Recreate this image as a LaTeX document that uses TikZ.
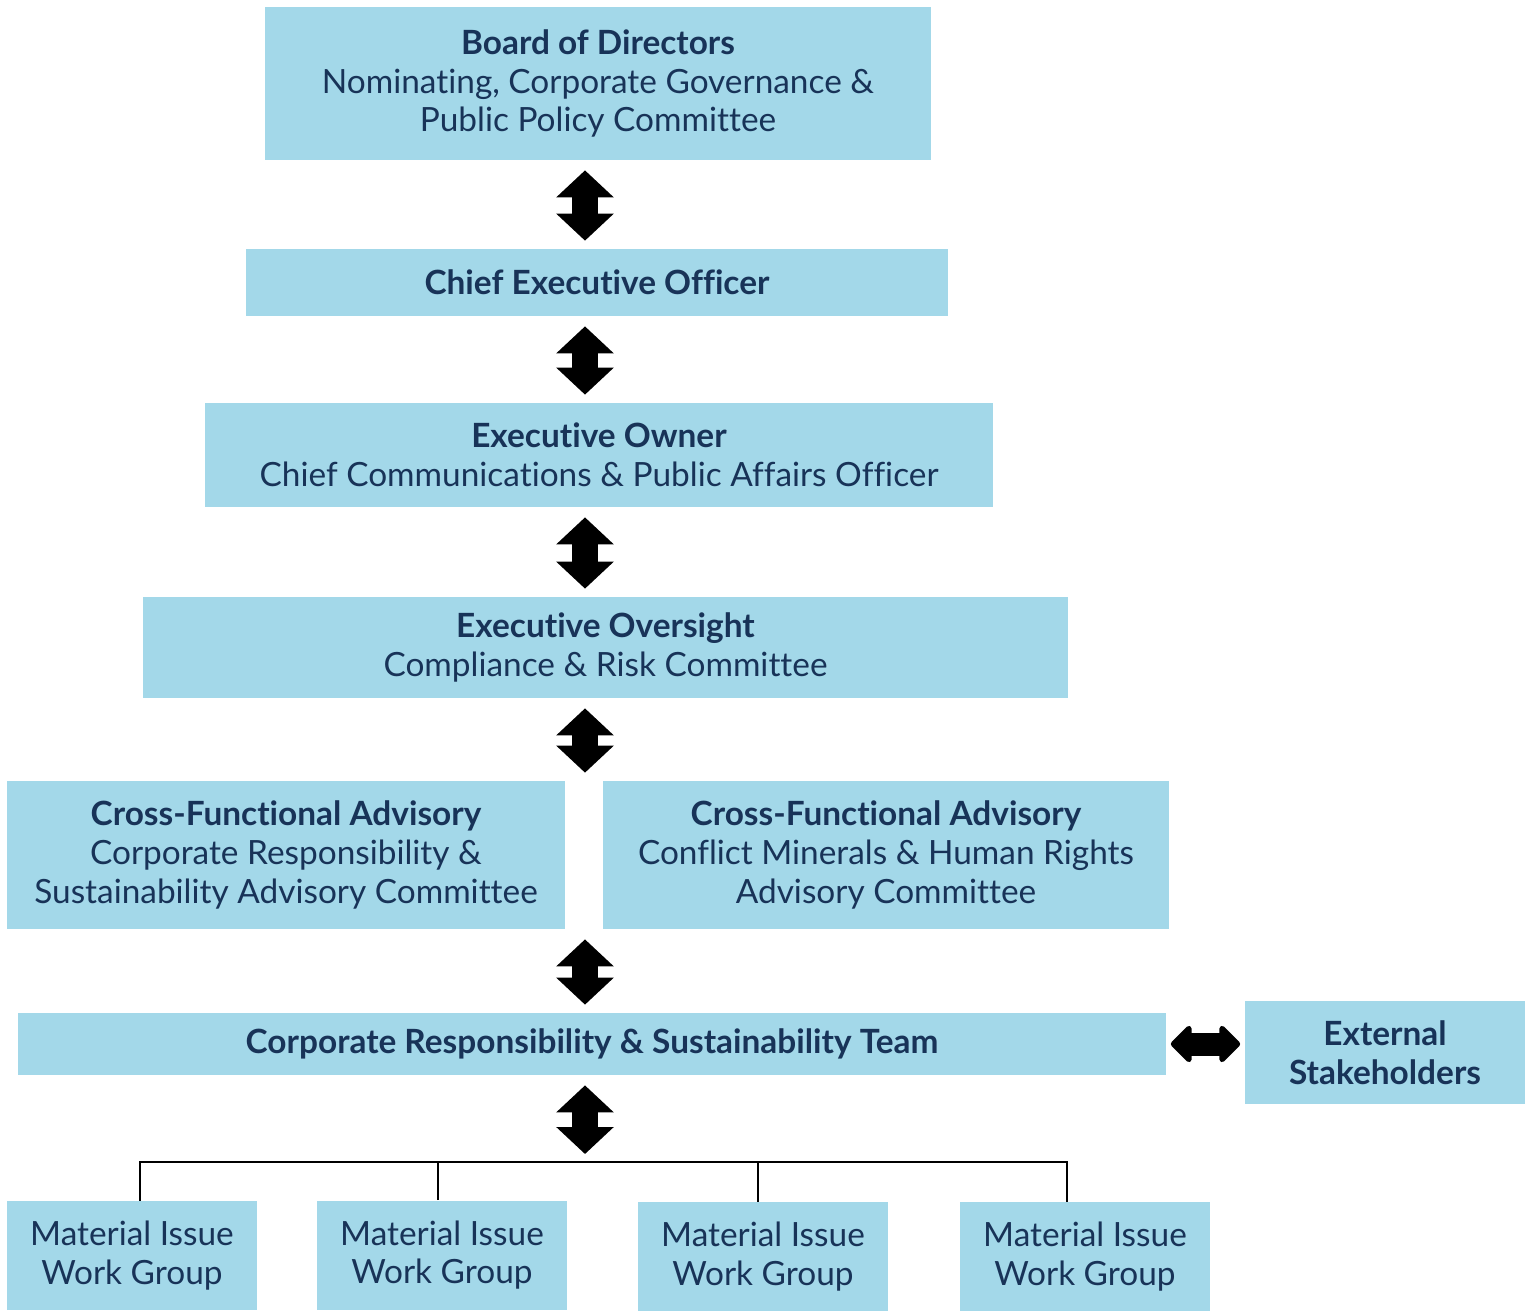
\documentclass[tikz,border=0pt]{standalone}
\usepackage{fontspec}
\setmainfont{Lato}[Ligatures={NoCommon}]
\usepackage{tikz}
\usetikzlibrary{arrows.meta,positioning}
\definecolor{boxblue}{RGB}{163,216,233}
\definecolor{navy}{RGB}{24,51,88}
\tikzset {
	unit/.style={rectangle, fill=boxblue, text=navy, align=center, inner sep=0pt, font=\fontsize{19}{22}\selectfont},
	group/.style={unit, minimum width=5cm, minimum height=2.18cm},
	updown/.style={line width=0.52cm, {Triangle[length=0.54cm,width=1.12cm]}-{Triangle[length=0.54cm,width=1.12cm]}, shorten <=0.2cm, shorten >=0.16cm},
	sideways/.style={line width=0.46cm, line join=round, {Triangle[length=0.44cm,width=0.86cm,round]}-{Triangle[length=0.44cm,width=0.86cm,round]}, shorten <=0.09cm, shorten >=0.09cm},
	bracket/.style={draw, line width=1.1pt}
}
\begin{document}
\begin{tikzpicture}
	\useasboundingbox (0,0) rectangle (30.6,-26.2);
	\coordinate (axis) at (11.7,0);
	\coordinate (bar) at (0,-23.24);
	% chain of command
	\node [unit, minimum width=13.32cm, minimum height=3.06cm] (board) at (11.96,-1.67) {\textbf{Board of Directors}\\Nominating, Corporate Governance \&\\Public Policy Committee};
	\node [unit, minimum width=14.04cm, minimum height=1.34cm] (ceo) at (11.94,-5.65) {\textbf{Chief Executive Officer}};
	\node [unit, minimum width=15.76cm, minimum height=2.08cm] (owner) at (11.98,-9.10) {\textbf{Executive Owner}\\Chief Communications \& Public Affairs Officer};
	\node [unit, minimum width=18.5cm, minimum height=2.02cm] (oversight) at (12.11,-12.95) {\textbf{Executive Oversight}\\Compliance \& Risk Committee};
	\node [unit, minimum width=11.16cm, minimum height=2.96cm] (crsac) at (5.72,-17.10) {\textbf{Cross-Functional Advisory}\\Corporate Responsibility \&\\Sustainability Advisory Committee};
	\node [unit, minimum width=11.32cm, minimum height=2.96cm] (cmhrac) at (17.72,-17.10) {\textbf{Cross-Functional Advisory}\\Conflict Minerals \& Human Rights\\Advisory Committee};
	\node [unit, minimum width=22.96cm, minimum height=1.24cm] (team) at (11.84,-20.88) {\textbf{Corporate Responsibility \& Sustainability Team}};
	\node [unit, minimum width=5.6cm, minimum height=2.06cm] (external) at (27.70,-21.05) {\textbf{External}\\\textbf{Stakeholders}};
	% work groups
	\node [group] (wg1) at (2.64,-25.11) {Material Issue\\Work Group};
	\node [group] (wg2) at (8.84,-25.10) {Material Issue\\Work Group};
	\node [group] (wg3) at (15.26,-25.13) {Material Issue\\Work Group};
	\node [group] (wg4) at (21.70,-25.13) {Material Issue\\Work Group};

	\draw [updown] (board.south -| axis) -- (ceo.north -| axis);
	\draw [updown] (ceo.south -| axis) -- (owner.north -| axis);
	\draw [updown] (owner.south -| axis) -- (oversight.north -| axis);
	\draw [updown] (oversight.south -| axis) -- (crsac.north -| axis);
	\draw [updown] (crsac.south -| axis) -- (team.north -| axis);
	\draw [updown] (team.south -| axis) -- (bar -| axis);
	\draw [sideways] (team.east) -- (external.west |- team.east);

	\draw [bracket] ([xshift=0.16cm]wg1.north) -- ([xshift=0.16cm]wg1.north |- bar) -- ([xshift=-0.36cm]wg4.north |- bar) -- ([xshift=-0.36cm]wg4.north);
	\draw [bracket] ([xshift=-0.08cm]wg2.north) -- ([xshift=-0.08cm]wg2.north |- bar);
	\draw [bracket] ([xshift=-0.10cm]wg3.north) -- ([xshift=-0.10cm]wg3.north |- bar);
\end{tikzpicture}
\end{document}
